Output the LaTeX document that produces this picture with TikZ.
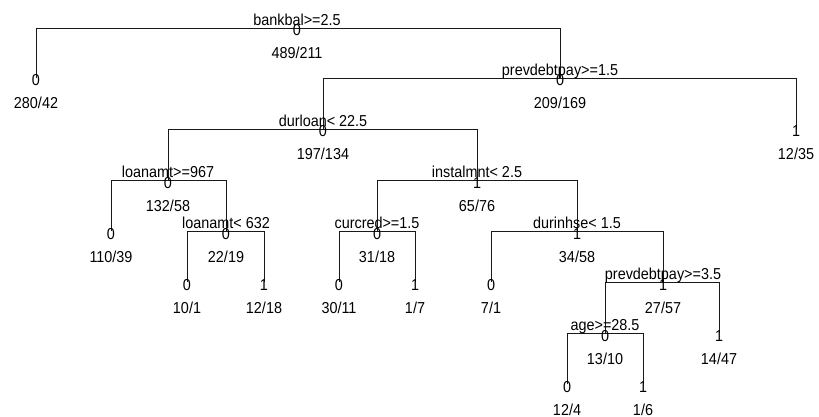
\documentclass[tikz,border=0pt]{standalone}
\usepackage{fontspec}
\setmainfont{Liberation Sans}
\newcommand\tfont{\fontsize{14.4}{16}\selectfont}
\newcommand\tx[1]{\scalebox{1}[1.1]{#1}}
\begin{document}
\begin{tikzpicture}[x=1pt,y=-1pt,
  lbl/.style={font=\tfont, inner sep=0pt, anchor=base},
  edge/.style={line width=0.8pt, draw=black!90}]
\useasboundingbox (0,0) rectangle (819,417);

% split points (internal nodes) and leaves
\coordinate (root) at (297,28);
\coordinate (l1)   at (36,78);
\coordinate (n2)   at (560,78);
\coordinate (l2)   at (796,129);
\coordinate (n3)   at (323,129);
\coordinate (n4)   at (168,180);
\coordinate (l3)   at (111,231);
\coordinate (n5)   at (226,231);
\coordinate (l4)   at (187,282);
\coordinate (l5)   at (264,282);
\coordinate (n6)   at (477,180);
\coordinate (n7)   at (377,231);
\coordinate (l6)   at (339,282);
\coordinate (l7)   at (415,282);
\coordinate (n8)   at (577,231);
\coordinate (l8)   at (491,282);
\coordinate (n9)   at (663,282);
\coordinate (l9)   at (719,333);
\coordinate (n10)  at (605,333);
\coordinate (l10)  at (567,384);
\coordinate (l11)  at (643,384);

% branches
\draw[edge] (root) -| (l1);  \draw[edge] (root) -| (n2);
\draw[edge] (n2) -| (n3);    \draw[edge] (n2) -| (l2);
\draw[edge] (n3) -| (n4);    \draw[edge] (n3) -| (n6);
\draw[edge] (n4) -| (l3);    \draw[edge] (n4) -| (n5);
\draw[edge] (n5) -| (l4);    \draw[edge] (n5) -| (l5);
\draw[edge] (n6) -| (n7);    \draw[edge] (n6) -| (n8);
\draw[edge] (n7) -| (l6);    \draw[edge] (n7) -| (l7);
\draw[edge] (n8) -| (l8);    \draw[edge] (n8) -| (n9);
\draw[edge] (n9) -| (n10);   \draw[edge] (n9) -| (l9);
\draw[edge] (n10) -| (l10);  \draw[edge] (n10) -| (l11);

% split rules
\node[lbl] (rootS) at (297,25.5) {\tx{bankbal>=2.5}};
\node[lbl] (n2S)   at (560,75.5) {\tx{prevdebtpay>=1.5}};
\node[lbl] (n3S)   at (323,126.5) {\tx{durloan< 22.5}};
\node[lbl] (n4S)   at (168,177.5) {\tx{loanamt>=967}};
\node[lbl] (n5S)   at (226,228.5) {\tx{loanamt< 632}};
\node[lbl] (n6S)   at (477,177.5) {\tx{instalmnt< 2.5}};
\node[lbl] (n7S)   at (377,228.5) {\tx{curcred>=1.5}};
\node[lbl] (n8S)   at (577,228.5) {\tx{durinhse< 1.5}};
\node[lbl] (n9S)   at (663,279.5) {\tx{prevdebtpay>=3.5}};
\node[lbl] (n10S)  at (605,330.5) {\tx{age>=28.5}};

% fitted classes
\node[lbl] (rootC) at (297,36) {\tx{0}};
\node[lbl] (l1C)   at (36,86)  {\tx{0}};
\node[lbl] (n2C)   at (560,86) {\tx{0}};
\node[lbl] (l2C)   at (796,137) {\tx{1}};
\node[lbl] (n3C)   at (323,137) {\tx{0}};
\node[lbl] (n4C)   at (168,188) {\tx{0}};
\node[lbl] (l3C)   at (111,239) {\tx{0}};
\node[lbl] (n5C)   at (226,239) {\tx{0}};
\node[lbl] (l4C)   at (187,290) {\tx{0}};
\node[lbl] (l5C)   at (264,290) {\tx{1}};
\node[lbl] (n6C)   at (477,188) {\tx{1}};
\node[lbl] (n7C)   at (377,239) {\tx{0}};
\node[lbl] (l6C)   at (339,290) {\tx{0}};
\node[lbl] (l7C)   at (415,290) {\tx{1}};
\node[lbl] (n8C)   at (577,239) {\tx{1}};
\node[lbl] (l8C)   at (491,290) {\tx{0}};
\node[lbl] (n9C)   at (663,290) {\tx{1}};
\node[lbl] (l9C)   at (719,341) {\tx{1}};
\node[lbl] (n10C)  at (605,341) {\tx{0}};
\node[lbl] (l10C)  at (567,392) {\tx{0}};
\node[lbl] (l11C)  at (643,392) {\tx{1}};

% class counts
\node[lbl] (rootN) at (297,59)  {\tx{489/211}};
\node[lbl] (l1N)   at (36,109)  {\tx{280/42}};
\node[lbl] (n2N)   at (560,109) {\tx{209/169}};
\node[lbl] (l2N)   at (796,160) {\tx{12/35}};
\node[lbl] (n3N)   at (323,160) {\tx{197/134}};
\node[lbl] (n4N)   at (168,211) {\tx{132/58}};
\node[lbl] (l3N)   at (111,262) {\tx{110/39}};
\node[lbl] (n5N)   at (226,262) {\tx{22/19}};
\node[lbl] (l4N)   at (187,313) {\tx{10/1}};
\node[lbl] (l5N)   at (264,313) {\tx{12/18}};
\node[lbl] (n6N)   at (477,211) {\tx{65/76}};
\node[lbl] (n7N)   at (377,262) {\tx{31/18}};
\node[lbl] (l6N)   at (339,313) {\tx{30/11}};
\node[lbl] (l7N)   at (415,313) {\tx{1/7}};
\node[lbl] (n8N)   at (577,262) {\tx{34/58}};
\node[lbl] (l8N)   at (491,313) {\tx{7/1}};
\node[lbl] (n9N)   at (663,313) {\tx{27/57}};
\node[lbl] (l9N)   at (719,364) {\tx{14/47}};
\node[lbl] (n10N)  at (605,364) {\tx{13/10}};
\node[lbl] (l10N)  at (567,415) {\tx{12/4}};
\node[lbl] (l11N)  at (643,415) {\tx{1/6}};
\end{tikzpicture}
\end{document}
